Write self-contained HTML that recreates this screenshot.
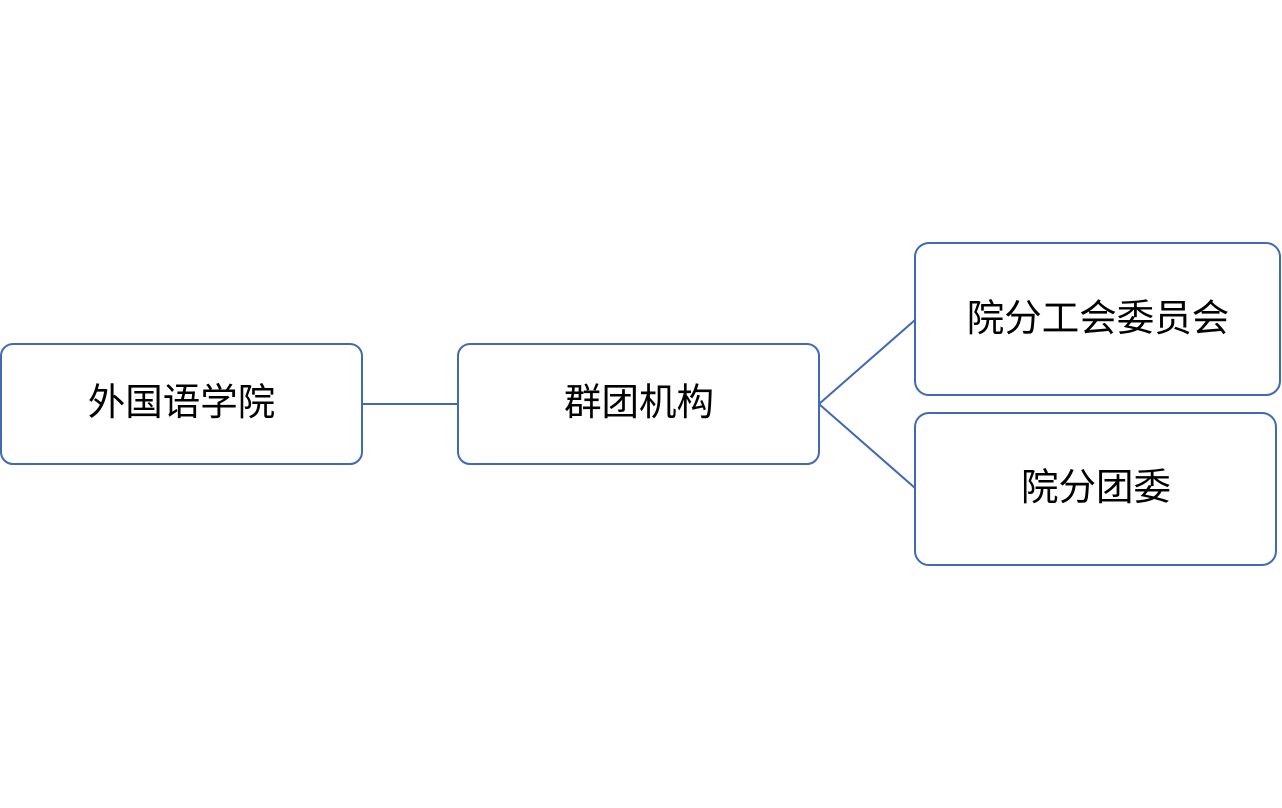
<!DOCTYPE html>
<html>
<head>
<meta charset="utf-8">
<style>
html,body{margin:0;padding:0;background:#fff;}
svg{display:block;}
text{font-family:"Liberation Sans","Noto Sans CJK SC",sans-serif;font-size:37.5px;fill:#000;}
</style>
</head>
<body>
<svg width="1282" height="808" viewBox="0 0 1282 808" xmlns="http://www.w3.org/2000/svg">
<g fill="#fff" stroke="#4169B4" stroke-width="2">
<line x1="362" y1="404" x2="458" y2="404"/>
<line x1="819" y1="404" x2="915" y2="320"/>
<line x1="819" y1="404" x2="915" y2="488"/>
<rect x="1" y="344" width="361" height="120" rx="12" ry="12"/>
<rect x="458" y="344" width="361" height="120" rx="12" ry="12"/>
<rect x="915" y="243" width="365" height="152" rx="14" ry="14"/>
<rect x="915" y="413" width="361" height="152" rx="14" ry="14"/>
</g>
<text x="181.5" y="402" text-anchor="middle" dominant-baseline="central">外国语学院</text>
<text x="639" y="402" text-anchor="middle" dominant-baseline="central">群团机构</text>
<text x="1098" y="318" text-anchor="middle" dominant-baseline="central">院分工会委员会</text>
<text x="1096" y="487" text-anchor="middle" dominant-baseline="central">院分团委</text>
</svg>
</body>
</html>
